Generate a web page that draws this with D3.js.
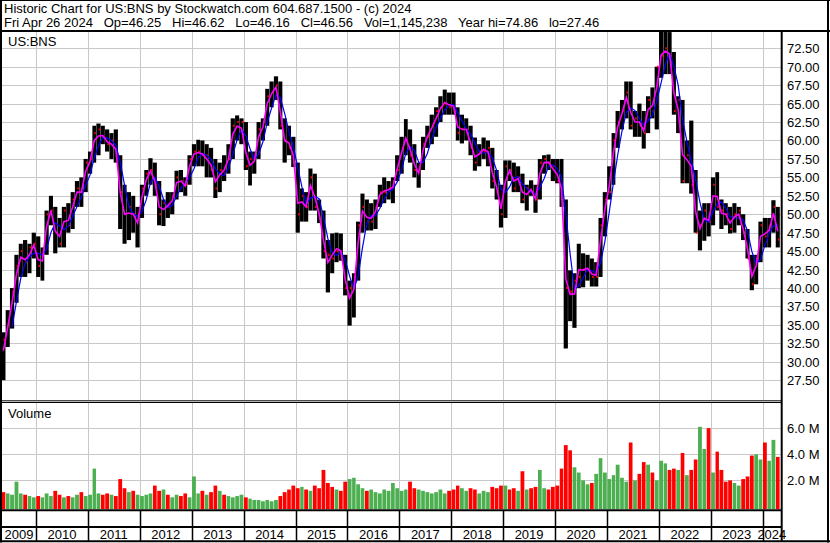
<!DOCTYPE html>
<html>
<head>
<meta charset="utf-8">
<script src="https://cdnjs.cloudflare.com/ajax/libs/d3/7.8.5/d3.min.js"></script>
<style>
  body { margin: 0; background: #fff; }
  svg { display: block; }
  text { font-family: "Liberation Sans", Arial, sans-serif; font-size: 13px; fill: #000; }
</style>
</head>
<body>
<div id="chart"></div>
<script>
// monthly bars, May 2009 .. Apr 2024
var firstMonth = [2009, 4];

var lows = [
  27.5, 32, 34.5, 38, 41.5, 41.5, 42, 44,
  41.5, 41, 44.5, 48.5, 44.7, 45.5, 45.5, 47.5, 48, 51, 51, 53,
  55.5, 57, 58, 59.5, 58.5, 57.5, 57, 48, 46, 46.5, 47.5, 45.5,
  49.5, 52.5, 54, 52.5, 48.5, 48.4, 49.5, 50, 52, 53, 52.5, 54,
  56.5, 56.5, 56.5, 55, 55, 52.2, 53, 54.5, 55.5, 57.5, 60, 59.5,
  56, 53.9, 55.5, 57.5, 60, 62, 64.5, 65.5, 61.5, 57, 58, 56.4,
  47.5, 49, 49, 50.5, 50.5, 48.8, 44, 39.4, 42, 43.5, 43.7, 39,
  34.9, 36, 41, 47.5, 47.8, 47.8, 48, 51, 51.5, 52, 51.5, 54.5,
  55.5, 58, 57, 55, 53.6, 56, 59, 59.5, 60.5, 62.5, 63.5, 63.5,
  63.5, 60, 59.6, 60, 58, 55.9, 56.5, 57.5, 56.5, 53.5, 52, 48.2,
  49.5, 54.5, 53, 53, 51.5, 50.5, 52.5, 50.2, 52, 55.5, 56, 54.5,
  54.2, 51, 31.8, 35.5, 34.6, 40, 40.1, 41, 40.2, 40.2, 41.5, 47,
  52, 54, 59, 61.5, 63, 61.5, 60.5, 60.5, 58.9, 61, 63, 61.5,
  68.5, 69, 69, 63.5, 61, 54.2, 54.2, 52.8, 47.5, 45.1, 46.4, 47,
  48.5, 50.5, 48, 48.5, 47.4, 47.5, 48.5, 46.5, 44, 39.7, 40.5, 43.5,
  45.5, 45.5, 47.5, 45.5
];

var highs = [
  34, 37, 40, 44.5, 46, 46.5, 46, 47.5,
  47, 45.5, 50.5, 52.5, 51, 49.5, 51, 51.5, 53, 54.5, 55, 57.5,
  58.5, 62, 62.3, 62, 61.5, 61, 61.5, 58, 54, 53, 52.5, 51,
  54, 56, 57.6, 57, 54.5, 52, 53, 53, 55.9, 56, 55, 58,
  59.5, 60.1, 60, 59.5, 59, 57.5, 57, 58, 59.5, 63, 63.4, 63,
  62.5, 58.5, 58.5, 62.5, 63, 67, 68, 68.7, 68, 63, 62, 60.5,
  57, 53.5, 53, 56.2, 55.5, 52, 50.5, 46.5, 47.4, 47.5, 47.4, 44.5,
  41, 42, 49, 52.8, 52, 51.5, 52, 54, 55, 54.5, 55, 58,
  60.5, 62.9, 61.5, 59.5, 57, 60.5, 62, 63.5, 64.5, 66, 66.9, 66.5,
  66.5, 64.5, 63.5, 63, 62, 60.4, 59.5, 60.4, 60, 59, 56, 54,
  57.3, 57.3, 57, 56.5, 55.5, 54, 54.6, 54, 57.5, 58, 58.1, 57.5,
  57.5, 57.5, 52, 42.4, 42, 46, 44.7, 44.5, 44, 43.5, 49.5, 53,
  56.5, 61, 64, 65.5, 68, 68, 64, 65, 64, 66, 67.2, 70,
  74.8, 74.86, 74.7, 72, 66, 65.5, 60, 62.7, 56, 50.5, 51.5, 51.5,
  55, 55.7, 52, 51.5, 51, 51.5, 51, 50, 48, 44.5, 44.5, 49,
  49.5, 49.5, 51.9, 51
];

var closes = [
  33, 35, 39.5, 43, 45, 43.5, 45.5, 46,
  43, 44.5, 50, 50.5, 47.5, 46, 50.5, 48.5, 52, 53.5, 53, 57,
  57.5, 61, 61.5, 60.5, 59.5, 60, 58, 53, 50, 51, 50, 50,
  53.5, 55.5, 56, 54, 50, 51.5, 51, 52.5, 55, 54.5, 54, 57.5,
  58.5, 58.5, 58, 58, 56, 53.5, 56, 55.5, 57.5, 62, 62.5, 62.5,
  56.5, 57.5, 57.5, 61.5, 62.5, 66, 66.5, 67.5, 62, 60, 59, 57,
  50, 52.5, 51, 55, 51, 49.5, 45, 44.5, 44, 45, 44, 40,
  40, 41.5, 48.5, 51, 49, 49, 51, 53, 53, 53.5, 54.5, 56,
  59, 60, 58, 56, 56, 59.5, 60.5, 62, 64, 64.5, 65, 64.5,
  64, 61, 61.5, 61.5, 59, 57, 58.5, 58.5, 59, 54.5, 53, 50,
  56.5, 56, 53.5, 55, 52, 53.5, 53, 52, 57, 57.5, 57, 56.5,
  54.5, 52, 40, 39.5, 41, 41.5, 42.5, 42.5, 41.5, 41.5, 48.5, 52,
  53, 60, 62.5, 64, 66.5, 62, 63, 62, 61, 65.5, 64, 70,
  71.5, 72.5, 71.5, 64, 65.5, 54.5, 58, 54, 47.5, 48.5, 50.5, 49,
  54, 51, 50.5, 50, 48, 50, 50.5, 47.5, 44, 40.5, 44, 48.5,
  47, 48.5, 51, 46.56
];

// volume in millions of shares
var volumes = [
  1.1, 1.0, 0.9, 1.9, 1.0, 0.9, 0.8, 0.7,
  0.8, 0.7, 1.0, 0.8, 1.2, 0.9, 0.7, 0.8, 0.7, 0.9, 1.1, 0.8,
  0.9, 2.9, 1.0, 0.9, 1.0, 0.9, 0.8, 2.1, 1.4, 1.1, 1.2, 0.9,
  0.8, 0.9, 1.0, 1.6, 1.2, 1.3, 0.9, 0.7, 0.9, 0.8, 1.0, 0.7,
  2.3, 1.0, 1.2, 0.9, 1.1, 1.6, 1.2, 0.9, 0.8, 0.7, 0.8, 0.9,
  0.7, 0.6, 0.5, 0.5, 0.4, 0.5, 0.4, 0.5, 0.8, 1.1, 1.3, 1.6,
  1.4, 1.5, 1.3, 1.2, 1.6, 1.4, 2.8, 1.8, 1.5, 1.3, 1.2, 1.9,
  2.1, 2.2, 1.7, 1.4, 1.2, 1.3, 1.1, 1.0, 1.3, 1.2, 1.8, 1.4,
  1.2, 1.3, 1.9, 1.4, 1.3, 1.2, 1.1, 1.0, 1.1, 1.3, 1.0, 1.2,
  1.3, 1.6, 1.4, 1.2, 1.4, 1.3, 1.0, 1.2, 1.1, 1.5, 1.4, 1.6,
  1.6, 1.3, 1.4, 1.2, 2.7, 1.3, 1.4, 1.5, 2.8, 1.4, 1.3, 1.5,
  1.6, 2.9, 4.7, 4.3, 3.0, 2.6, 2.0, 1.7, 1.8, 2.5, 3.7, 2.6,
  2.1, 2.4, 3.2, 2.2, 1.9, 4.9, 2.0, 2.5, 3.4, 3.2, 2.6, 2.0,
  3.5, 3.3, 2.8, 2.9, 2.8, 4.1, 2.4, 2.8, 3.6, 6.1, 4.4, 6.0,
  2.6, 4.2, 2.8, 1.9, 2.0, 1.8, 1.6, 2.1, 2.3, 3.9, 4.0, 3.6,
  4.9, 3.5, 5.1, 3.8
];

var priceTicks = [27.5, 30, 32.5, 35, 37.5, 40, 42.5, 45, 47.5, 50, 52.5, 55,
  57.5, 60, 62.5, 65, 67.5, 70, 72.5];
var volumeTicks = [2, 4, 6];
var yearLabels = ["2009", "2010", "2011", "2012", "2013", "2014", "2015", "2016",
  "2017", "2018", "2019", "2020", "2021", "2022", "2023", "2024"];

var titleLine = "Historic Chart for US:BNS by Stockwatch.com 604.687.1500 - (c) 2024";
var quoteLine = "Fri Apr 26 2024   Op=46.25   Hi=46.62   Lo=46.16   Cl=46.56   Vol=1,145,238   Year hi=74.86   lo=27.46";

var svgWidth = 830, svgHeight = 543;

// panel edges
var plotLeft = 2, plotRight = 781;
var priceTop = 32, priceBottom = 400;
var volTop = 403, volBottom = 509;

var svg = d3.select("#chart")
  .append("svg")
  .attr("width", svgWidth)
  .attr("height", svgHeight);

var months = d3.range(closes.length).map(function(i) {
  return new Date(firstMonth[0], firstMonth[1] + i, 1);
});

var x = d3.scaleTime()
  .domain([new Date(2010, 0, 1), new Date(2024, 0, 1)])
  .range([36, 762.7]);

var yPrice = d3.scaleLinear()
  .domain([27.5, 72.5])
  .range([380.2, 48.3]);

var yVol = d3.scaleLinear()
  .domain([0, 8])
  .range([506.5, 402]);

var yearStarts = d3.timeYear.range(new Date(2010, 0, 1), new Date(2024, 1, 1));

// gridlines
var grid = svg.append("g").attr("stroke", "#c8c8c8").attr("stroke-width", 1);

grid.selectAll(".hp")
  .data(priceTicks)
  .enter().append("line")
  .attr("x1", plotLeft).attr("x2", plotRight)
  .attr("y1", d => Math.round(yPrice(d)) + 0.5)
  .attr("y2", d => Math.round(yPrice(d)) + 0.5);

grid.selectAll(".hv")
  .data(volumeTicks)
  .enter().append("line")
  .attr("x1", plotLeft).attr("x2", plotRight)
  .attr("y1", d => Math.round(yVol(d)) + 0.5)
  .attr("y2", d => Math.round(yVol(d)) + 0.5);

yearStarts.forEach(function(d) {
  var xx = Math.round(x(d)) + 0.5;
  grid.append("line").attr("x1", xx).attr("x2", xx).attr("y1", priceTop).attr("y2", priceBottom);
  grid.append("line").attr("x1", xx).attr("x2", xx).attr("y1", volTop).attr("y2", volBottom);
});

// clip so the bars stay inside the panels
svg.append("clipPath").attr("id", "plotClip")
  .append("rect")
  .attr("x", plotLeft).attr("y", priceTop)
  .attr("width", plotRight - plotLeft).attr("height", volBottom - priceTop);

var chartGroup = svg.append("g").attr("clip-path", "url(#plotClip)");

function monthWidth(i) {
  return x(new Date(firstMonth[0], firstMonth[1] + i + 1, 1)) - x(months[i]);
}
function monthCenter(i) {
  return x(months[i]) + monthWidth(i) / 2;
}

// price range bars
chartGroup.selectAll(".bar")
  .data(closes)
  .enter().append("rect")
  .attr("x", (d, i) => x(months[i]) + 0.1)
  .attr("width", (d, i) => monthWidth(i) - 0.2)
  .attr("y", (d, i) => yPrice(highs[i]))
  .attr("height", (d, i) => yPrice(lows[i]) - yPrice(highs[i]))
  .attr("fill", "#000");

// red close ticks
chartGroup.selectAll(".tick")
  .data(closes)
  .enter().append("rect")
  .attr("x", (d, i) => x(months[i]) + monthWidth(i) - 2)
  .attr("width", 1.6)
  .attr("y", d => yPrice(d) - 1)
  .attr("height", 2)
  .attr("fill", "#ff0000");

// moving averages from the monthly bars
var typical = closes.map((d, i) => (d + highs[i] + lows[i]) / 3);
var slow = typical.map((d, i) => i < 2 ? null : d3.mean(typical.slice(i - 2, i + 1)));

var drawLine = d3.line()
  .defined(d => d[1] != null)
  .x(d => monthCenter(d[0]))
  .y(d => yPrice(d[1]));

chartGroup.append("path")
  .attr("d", drawLine(slow.map((d, i) => [i, d])))
  .attr("fill", "none")
  .attr("stroke", "#0000ff")
  .attr("stroke-width", 1.2);

chartGroup.append("path")
  .attr("d", drawLine(typical.map((d, i) => [i, d])))
  .attr("fill", "none")
  .attr("stroke", "#ff00ff")
  .attr("stroke-width", 1.6);

// volume bars, green when the month closed up
chartGroup.selectAll(".vol")
  .data(volumes)
  .enter().append("rect")
  .attr("x", (d, i) => x(months[i]) + 0.3)
  .attr("width", (d, i) => monthWidth(i) - 0.6)
  .attr("y", d => yVol(d))
  .attr("height", d => volBottom - yVol(d))
  .attr("fill", (d, i) => (i > 0 && closes[i] >= closes[i - 1]) ? "#4caf50" : "#ff0000");

// frame and panel borders
var frame = svg.append("g").attr("stroke", "#000");
frame.append("line").attr("x1", 0).attr("x2", svgWidth).attr("y1", 0.5).attr("y2", 0.5).attr("stroke-width", 1);
frame.append("line").attr("x1", 1).attr("x2", 1).attr("y1", 0).attr("y2", 542.5).attr("stroke-width", 2);
frame.append("line").attr("x1", 828).attr("x2", 828).attr("y1", 0).attr("y2", 542.5).attr("stroke-width", 2);
frame.append("line").attr("x1", 0).attr("x2", svgWidth).attr("y1", 31).attr("y2", 31).attr("stroke-width", 2);
frame.append("line").attr("x1", 0).attr("x2", svgWidth).attr("y1", 541.3).attr("y2", 541.3).attr("stroke-width", 2);
frame.append("line").attr("x1", 781.7).attr("x2", 781.7).attr("y1", 31).attr("y2", 542).attr("stroke-width", 2);
frame.append("line").attr("x1", 0).attr("x2", 782).attr("y1", 400.8).attr("y2", 400.8).attr("stroke-width", 1);
frame.append("line").attr("x1", 0).attr("x2", 782).attr("y1", 402.5).attr("y2", 402.5).attr("stroke-width", 1);
frame.append("line").attr("x1", 0).attr("x2", 782).attr("y1", 510.2).attr("y2", 510.2).attr("stroke-width", 2);
frame.append("line").attr("x1", 0).attr("x2", 782).attr("y1", 527).attr("y2", 527).attr("stroke-width", 2);

yearStarts.forEach(function(d) {
  var xx = Math.round(x(d)) + 0.5;
  frame.append("line").attr("x1", xx).attr("x2", xx).attr("y1", 511).attr("y2", 541).attr("stroke-width", 1.5);
});

// header text
svg.append("text").attr("x", 4).attr("y", 13).text(titleLine);
svg.append("text").attr("x", 4).attr("y", 27).style("white-space", "pre").text(quoteLine);

svg.append("text").attr("x", 8).attr("y", 46).text("US:BNS");
svg.append("text").attr("x", 8).attr("y", 418).text("Volume");

// right axis labels
svg.selectAll(".plab")
  .data(priceTicks)
  .enter().append("text")
  .attr("x", 787)
  .attr("y", d => yPrice(d) + 5)
  .text(d => d.toFixed(2));

svg.selectAll(".vlab")
  .data(volumeTicks)
  .enter().append("text")
  .attr("x", 787)
  .attr("y", d => yVol(d) + 5)
  .text(d => d.toFixed(1) + " M");

// year labels, centred in the visible part of each year cell
var cellEdges = [plotLeft].concat(yearStarts.map(d => x(d))).concat([plotRight]);
svg.selectAll(".ylab")
  .data(yearLabels)
  .enter().append("text")
  .attr("x", (d, i) => (cellEdges[i] + cellEdges[i + 1]) / 2)
  .attr("y", 539)
  .attr("text-anchor", "middle")
  .text(d => d);
</script>
</body>
</html>
